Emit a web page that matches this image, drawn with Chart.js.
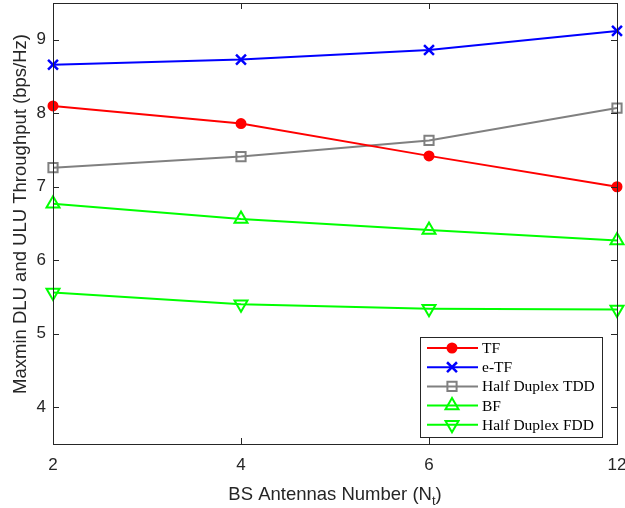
<!DOCTYPE html>
<html>
<head>
<meta charset="utf-8">
<script src="https://cdn.jsdelivr.net/npm/chart.js@4.4.0/dist/chart.umd.min.js"></script>
<style>
    html, body { margin: 0; padding: 0; background: #fff; }
    #wrap { width: 625px; height: 508px; }
</style>
</head>
<body>
<div id="wrap"><canvas id="c"></canvas></div>
<script>
// Data
const antennas = ["2", "4", "6", "12"];
const tf = [8.10, 7.86, 7.42, 7.00];
const eTf = [8.66, 8.73, 8.86, 9.12];
const halfTdd = [7.26, 7.41, 7.63, 8.07];
const bf = [6.77, 6.56, 6.41, 6.27];
const halfFdd = [5.56, 5.40, 5.34, 5.33];
const yTicks = [4, 5, 6, 7, 8, 9];

const axisColor = "#262626";
const sans = "'Liberation Sans', Arial, sans-serif";

function series(label, values, color, style, extra) {
    return Object.assign({
        label: label,
        data: values,
        borderColor: color,
        backgroundColor: color,
        borderWidth: 2,
        pointStyle: style,
        pointRadius: 5,
        pointBorderColor: color,
        pointBackgroundColor: "rgba(0,0,0,0)",
        pointBorderWidth: 2,
        tension: 0,
        clip: false
    }, extra || {});
}

const datasets = [
    series("TF", tf, "#ff0000", "circle", { pointBackgroundColor: "#ff0000", pointRadius: 4.5 }),
    series("e-TF", eTf, "#0000ff", "crossRot", { pointRadius: 7, pointBorderWidth: 2.5 }),
    series("Half Duplex TDD", halfTdd, "#808080", "rect", { pointRadius: 6.5 }),
    series("BF", bf, "#00ff00", "triangle", { pointRadius: 7.5 }),
    series("Half Duplex FDD", halfFdd, "#00ff00", "triangle", { pointRadius: 7.5, pointRotation: 180 })
];

function noPad(scale) {
    scale.paddingTop = 0;
    scale.paddingBottom = 0;
    scale.paddingLeft = 0;
    scale.paddingRight = 0;
}

// box, inward ticks, axis titles, legend inside the plot
const decorations = {
    id: "decorations",
    afterDraw(chart) {
        const ctx = chart.ctx;
        const a = chart.chartArea;
        const xs = chart.scales.x, ys = chart.scales.y;
        ctx.save();
        ctx.strokeStyle = axisColor;
        ctx.lineWidth = 1;
        ctx.strokeRect(a.left + 0.5, a.top + 0.5, a.right - a.left, a.bottom - a.top);

        ctx.beginPath();
        yTicks.forEach(v => {
            const y = Math.round(ys.getPixelForValue(v)) + 0.5;
            ctx.moveTo(a.left, y); ctx.lineTo(a.left + 6, y);
            ctx.moveTo(a.right, y); ctx.lineTo(a.right - 6, y);
        });
        antennas.forEach((lab, i) => {
            const x = Math.round(xs.getPixelForValue(i)) + 0.5;
            ctx.moveTo(x, a.bottom); ctx.lineTo(x, a.bottom - 6);
            ctx.moveTo(x, a.top); ctx.lineTo(x, a.top + 6);
        });
        ctx.stroke();

        // y axis title
        ctx.fillStyle = axisColor;
        ctx.font = "18.5px " + sans;
        ctx.textAlign = "center";
        ctx.textBaseline = "middle";
        ctx.save();
        ctx.translate(21, 214);
        ctx.rotate(-Math.PI / 2);
        ctx.fillText("Maxmin DLU and ULU Throughput (bps/Hz)", 0, 0);
        ctx.restore();

        // x axis title with subscript
        ctx.textAlign = "left";
        ctx.textBaseline = "alphabetic";
        const main = "BS Antennas Number (N";
        ctx.font = "18.5px " + sans;
        const w1 = ctx.measureText(main).width;
        const w3 = ctx.measureText(")").width;
        ctx.font = "13px " + sans;
        const w2 = ctx.measureText("t").width;
        const x = (a.left + a.right) / 2 - (w1 + w2 + w3) / 2;
        const base = 500;
        ctx.font = "18.5px " + sans;
        ctx.fillText(main, x, base);
        ctx.font = "13px " + sans;
        ctx.fillText("t", x + w1, base + 5);
        ctx.font = "18.5px " + sans;
        ctx.fillText(")", x + w1 + w2, base);

        // legend
        const bx = 420, by = 337, bw = 182, bh = 100;
        ctx.fillStyle = "#fff";
        ctx.fillRect(bx, by, bw, bh);
        ctx.lineWidth = 1;
        ctx.strokeStyle = "#262626";
        ctx.strokeRect(bx + 0.5, by + 0.5, bw, bh);
        chart.data.datasets.forEach((ds, i) => {
            const y = by + 11 + i * 19.2;
            ctx.strokeStyle = ds.borderColor;
            ctx.lineWidth = 2;
            ctx.beginPath();
            ctx.moveTo(bx + 7, y); ctx.lineTo(bx + 58, y);
            ctx.stroke();
            ctx.fillStyle = ds.pointBackgroundColor;
            ctx.strokeStyle = ds.pointBorderColor;
            ctx.lineWidth = ds.pointBorderWidth;
            Chart.helpers.drawPoint(ctx, {
                pointStyle: ds.pointStyle,
                radius: ds.pointRadius,
                rotation: ds.pointRotation || 0,
                borderWidth: ds.pointBorderWidth
            }, bx + 32, y);
            ctx.fillStyle = "#000";
            ctx.font = "15.5px 'Liberation Serif', 'Times New Roman', serif";
            ctx.textBaseline = "middle";
            ctx.fillText(ds.label, bx + 62, y + 1);
        });
        ctx.restore();
    }
};

new Chart(document.getElementById("c"), {
    type: "line",
    data: { labels: antennas, datasets: datasets },
    options: {
        responsive: true,
        maintainAspectRatio: false,
        animation: false,
        layout: { autoPadding: false, padding: { left: 0, right: 8, top: 3, bottom: 0 } },
        plugins: {
            legend: { display: false },
            tooltip: { enabled: false }
        },
        scales: {
            x: {
                type: "category",
                offset: false,
                grid: { display: false, drawTicks: false },
                border: { display: false },
                ticks: {
                    color: axisColor,
                    padding: 11,
                    font: { family: sans, size: 17 }
                },
                afterFit(scale) { scale.height = 64; noPad(scale); }
            },
            y: {
                min: 3.5,
                max: 9.5,
                grid: { display: false, drawTicks: false },
                border: { display: false },
                afterBuildTicks(scale) { scale.ticks = yTicks.map(v => ({ value: v })); },
                ticks: {
                    color: axisColor,
                    padding: 7,
                    font: { family: sans, size: 17 }
                },
                afterFit(scale) { scale.width = 53; noPad(scale); }
            }
        }
    },
    plugins: [decorations]
});
</script>
</body>
</html>
